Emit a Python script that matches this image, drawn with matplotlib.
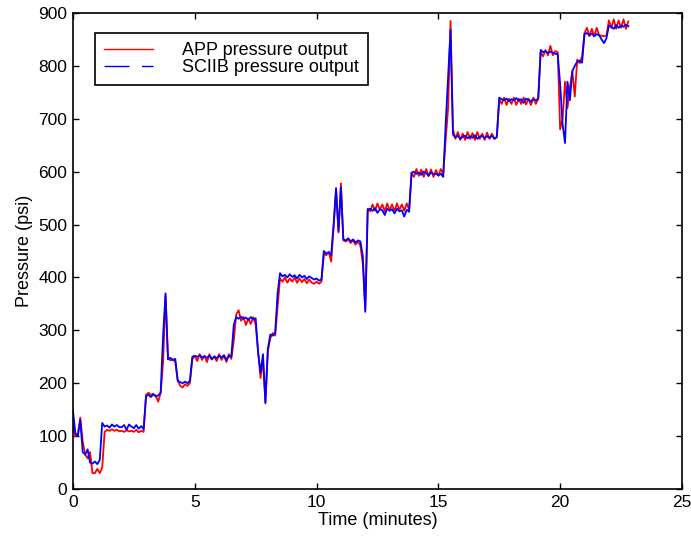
"""Pressure step test: APP vs SCIIB pressure output over time."""

import matplotlib
matplotlib.use("Agg")
import matplotlib.pyplot as plt
from matplotlib.lines import Line2D
import numpy as np

# Sampled every 0.1 min, starting at t = 0
SAMPLE_STEP_MIN = 0.1

app_psi = [
    120, 100, 105, 135, 90, 65, 58, 70, 30, 30,
    38, 30, 40, 108, 112, 110, 113, 110, 112, 109,
    110, 108, 111, 109, 110, 108, 112, 107, 110, 108,
    178, 182, 178, 180, 176, 165, 182, 240, 365, 250,
    243, 245, 240, 205, 195, 192, 198, 195, 200, 245,
    252, 242, 255, 244, 252, 240, 255, 245, 250, 242,
    255, 244, 252, 240, 255, 246, 280, 330, 338, 318,
    325, 310, 322, 312, 325, 310, 260, 210, 245, 165,
    260, 285, 295, 290, 345, 398, 392, 400, 390, 398,
    392, 400, 390, 398, 391, 397, 389, 396, 390, 388,
    392, 388, 392, 445, 442, 448, 430, 495, 565, 485,
    578, 470, 468, 472, 465, 470, 462, 468, 460, 425,
    338, 530, 525, 538, 526, 540, 528, 538, 525, 540,
    527, 538, 525, 540, 528, 538, 526, 540, 528, 598,
    590, 605, 592, 604, 590, 605, 592, 604, 590, 603,
    592, 605, 595, 660, 720, 885, 680, 662, 675, 660,
    672, 660, 675, 662, 673, 660, 675, 662, 672, 660,
    674, 662, 672, 662, 665, 738, 728, 740, 726, 738,
    728, 740, 726, 738, 728, 740, 727, 738, 726, 740,
    728, 738, 826, 818, 830, 820, 838, 820, 828, 826,
    680, 700, 770, 720, 760, 790, 742, 812, 805, 818,
    862, 872, 856, 870, 856, 872, 858, 857, 856, 857,
    886, 872, 888, 870, 886, 872, 888, 870, 884,
]

sciib_psi = [
    148, 105, 100, 130, 70, 65, 75, 50, 48, 52,
    47, 55, 125, 118, 120, 116, 122, 118, 121, 117,
    117, 121, 112, 122, 118, 115, 121, 114, 119, 113,
    176, 178, 174, 179, 175, 177, 182, 290, 370, 245,
    248, 244, 246, 205, 202, 200, 203, 200, 205, 250,
    252, 250, 253, 249, 251, 248, 252, 245, 251, 247,
    252, 249, 253, 244, 252, 250, 310, 325, 322, 326,
    322, 324, 320, 325, 321, 323, 258, 220, 255, 162,
    265, 292, 290, 295, 370, 408, 402, 405, 400, 406,
    401, 404, 398, 405, 400, 403, 397, 402, 399, 396,
    398, 394, 396, 450, 445, 448, 442, 500, 569, 488,
    570, 472, 470, 474, 468, 472, 466, 470, 468, 440,
    335, 528, 530, 526, 531, 522, 529, 527, 518, 530,
    526, 529, 521, 530, 525, 527, 515, 528, 524, 598,
    600, 596, 598, 594, 600, 597, 592, 599, 595, 596,
    593, 596, 590, 690, 780, 868, 670, 665, 668, 662,
    666, 668, 663, 667, 664, 669, 662, 666, 668, 663,
    667, 664, 668, 662, 666, 740, 737, 735, 738, 733,
    737, 735, 739, 734, 737, 730, 738, 736, 733, 737,
    735, 738, 830, 826, 828, 824, 827, 825, 823, 822,
    765, 690, 654, 770, 735, 790, 800, 808, 810, 806,
    860, 862, 858, 861, 856, 860, 858, 850, 843, 852,
    876, 874, 870, 877, 872, 876, 874, 878, 875,
]

x_ticks = [0, 5, 10, 15, 20, 25]
y_ticks = [0, 100, 200, 300, 400, 500, 600, 700, 800, 900]

plt.rcParams["font.family"] = ["Liberation Sans", "DejaVu Sans"]
plt.rcParams["font.size"] = 13

RED = "#ff0000"
BLUE = "#0000ff"


def main() -> None:
    time_min = np.arange(len(app_psi)) * SAMPLE_STEP_MIN

    fig = plt.figure(figsize=(6.91, 5.41), dpi=100)
    ax = fig.add_axes([0.1056, 0.0961, 0.8813, 0.8799])

    # dense samples: the dash pattern restarts every vertex, so the trace reads solid
    ax.plot(time_min, app_psi, color=RED, lw=1.3)
    ax.plot(time_min, sciib_psi, color=BLUE, lw=1.3)

    ax.set_xlim(0, 25)
    ax.set_ylim(0, 900)
    ax.set_xticks(x_ticks)
    ax.set_yticks(y_ticks)
    ax.tick_params(direction="in", top=True, right=True, length=4,
                   width=1, labelsize=12.5, pad=4)
    for spine in ax.spines.values():
        spine.set_linewidth(1.2)

    ax.set_xlabel("Time (minutes)", fontsize=13, labelpad=2)
    ax.set_ylabel("Pressure (psi)", fontsize=13, labelpad=4)

    handles = [
        Line2D([], [], color=RED, lw=1.0),
        Line2D([], [], color=BLUE, lw=1.0, linestyle=(0, (18, 9))),
    ]
    labels = ["APP pressure output", "SCIIB pressure output"]
    leg = ax.legend(handles, labels, loc="upper left",
                    bbox_to_anchor=(0.036, 0.958),
                    fancybox=False, framealpha=1, edgecolor="black",
                    handlelength=2.7, handletextpad=1.65, labelspacing=0.0,
                    borderpad=0.5, borderaxespad=0, fontsize=13)
    leg.get_frame().set_linewidth(1.2)

    fig.savefig("out.png", dpi=100)
    plt.close(fig)


if __name__ == "__main__":
    main()
